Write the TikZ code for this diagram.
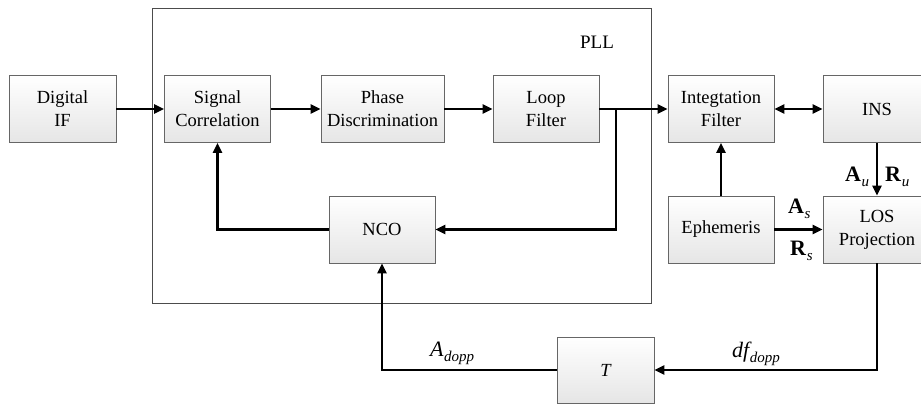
\documentclass[tikz,border=0pt]{standalone}
\usepackage{fontspec}
\setmainfont{Liberation Serif}
\usetikzlibrary{arrows.meta}
\newcommand{\lbsub}[2]{#1\kern0.5pt\raisebox{-5pt}{\fontsize{15}{15}\selectfont\itshape #2}}
\begin{document}
\begin{tikzpicture}[x=1pt,y=-1pt,
  blk/.style={draw=gray!80!black,line width=0.7pt,top color=white,bottom color=gray!20,
    minimum height=67pt,inner sep=0pt,align=center,
    font=\fontsize{18.5}{23}\selectfont},
  conn/.style={line width=2.9pt,-{Triangle[length=10pt,width=9pt]}},
  lbl/.style={inner sep=0pt,font=\fontsize{22}{26}\selectfont}]
\useasboundingbox (0,0) rectangle (921,405);
\clip (0,0) rectangle (921,405);
% PLL frame
\node[draw=gray!60!black,line width=0.8pt,minimum width=499pt,minimum height=295pt,inner sep=0pt] (pll) at (401.5,155.5) {};
\node[font=\fontsize{19}{21}\selectfont,anchor=base,inner sep=0pt] (pllt) at (597,48) {PLL};
% blocks
\node[blk,minimum width=107pt] (dif) at (62.5,109) {Digital\\IF};
\node[blk,minimum width=106pt] (sc) at (217.5,109) {Signal\\Correlation};
\node[blk,minimum width=123pt] (pd) at (382.5,109) {Phase\\Discrimination};
\node[blk,minimum width=106pt] (lf) at (546,109) {Loop\\Filter};
\node[blk,minimum width=106pt] (itf) at (721,109) {Integtation\\Filter};
\node[blk,minimum width=108pt] (ins) at (877,109) {INS};
\node[blk,minimum width=106pt] (eph) at (721,229.5) {Ephemeris};
\node[blk,minimum width=108pt] (los) at (877,229.5) {LOS\\Projection};
\node[blk,minimum width=106pt] (nco) at (382,229.5) {NCO};
\node[blk,minimum width=97pt,minimum height=66pt] (tb) at (605.5,370) {\itshape T};
% connectors
\draw[conn] (dif.east) -- (sc.west);
\draw[conn] (sc.east) -- (pd.west);
\draw[conn] (pd.east) -- (lf.west);
\draw[conn] (lf.east) -- (itf.west);
\coordinate (br) at (616,109);
\draw[conn] (br) |- (nco.east);
\draw[conn] (nco.west) -| (sc.south);
\draw[line width=2.9pt,{Triangle[length=10pt,width=9pt]}-{Triangle[length=10pt,width=9pt]}] (itf.east) -- (ins.west);
\draw[conn] (eph.north) -- (itf.south);
\draw[conn] (ins.south) -- (los.north);
\draw[conn] (eph.east) -- (los.west);
\coordinate (c1) at (877,370);
\draw[conn] (los.south) -- (c1) -- (tb.east);
\coordinate (c2) at (382,370);
\draw[conn] (tb.west) -- (c2) -- (nco.south);
% labels
\node[lbl,anchor=base west] (au) at (845,181) {\lbsub{\textbf{A}}{u}};
\node[lbl,anchor=base west] (ru) at (885,181) {\lbsub{\textbf{R}}{u}};
\node[lbl,anchor=base west] (as) at (788,213) {\lbsub{\textbf{A}}{s}};
\node[lbl,anchor=base west] (rs) at (790,255) {\lbsub{\textbf{R}}{s}};
\node[lbl,anchor=base west] (ad) at (430,356) {\lbsub{\itshape A}{dopp}};
\node[lbl,anchor=base west] (df) at (732,357) {\lbsub{\itshape df}{dopp}};
\end{tikzpicture}
\end{document}
